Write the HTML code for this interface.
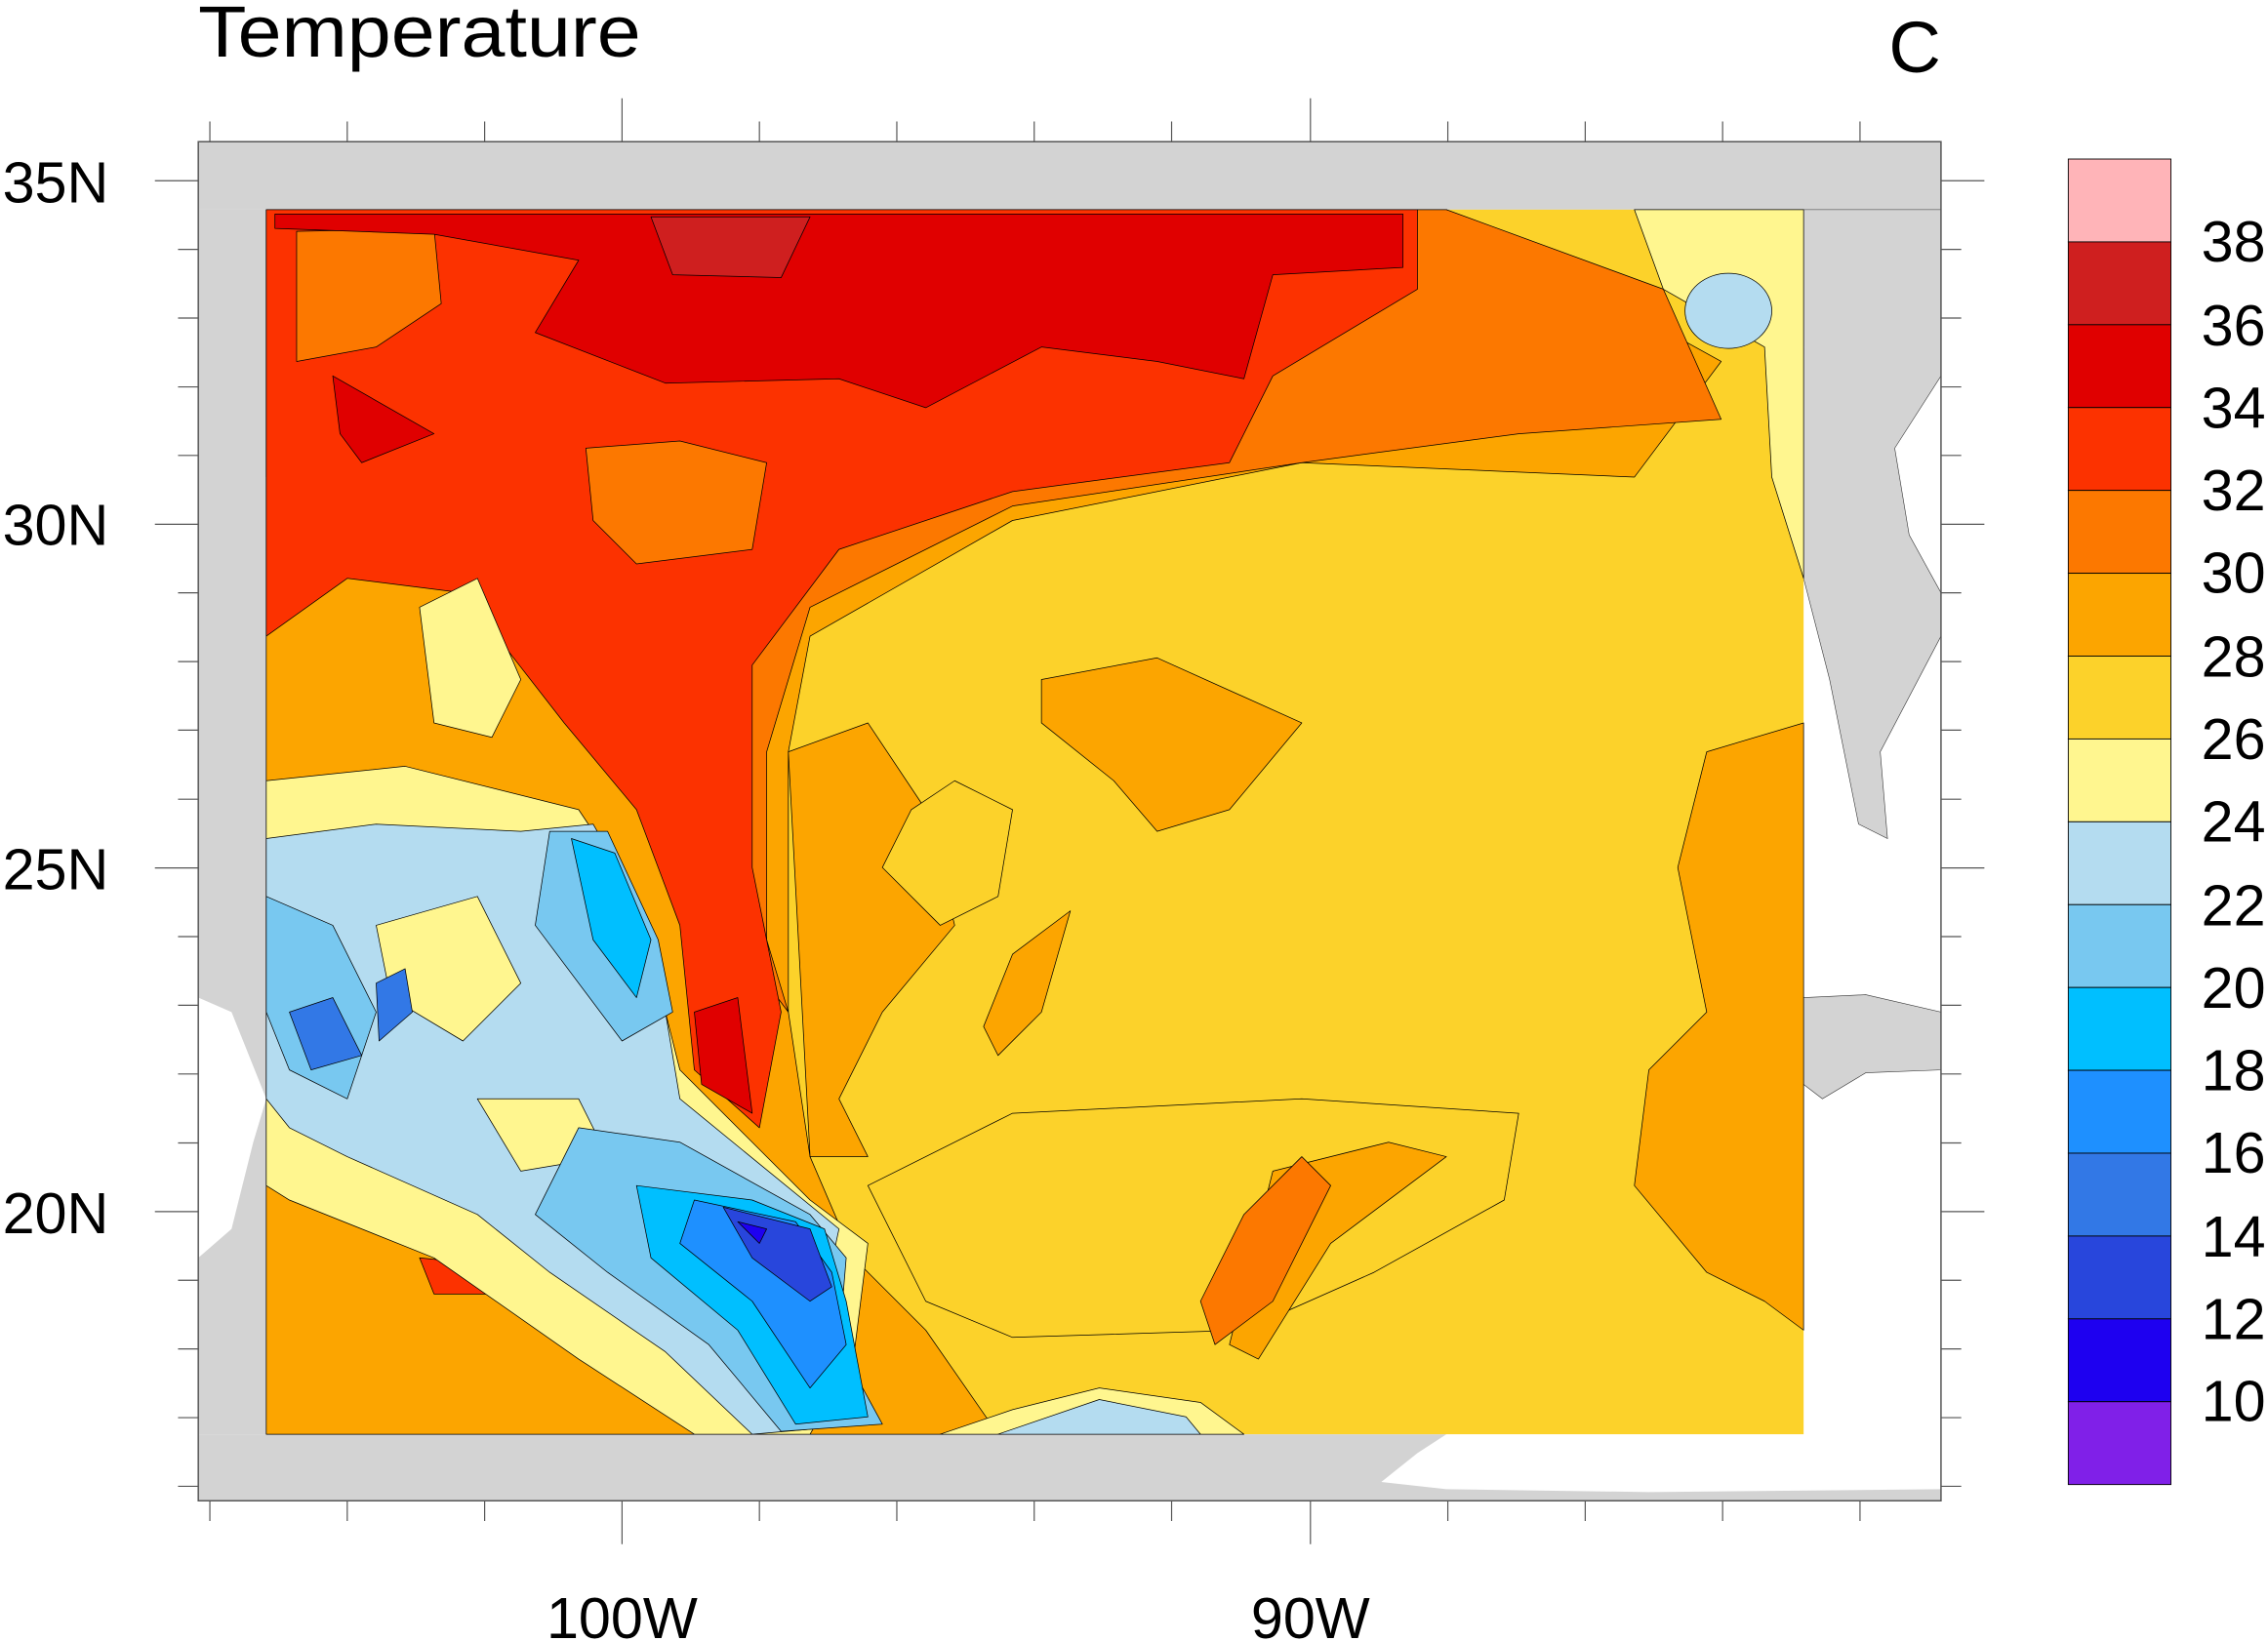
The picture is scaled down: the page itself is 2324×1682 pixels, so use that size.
<!DOCTYPE html>
<html><head><meta charset="utf-8"><style>html,body{margin:0;padding:0;background:#fff}svg{display:block}</style></head>
<body>
<svg width="2324" height="1682" viewBox="0 0 1568 1135" xmlns="http://www.w3.org/2000/svg" font-family="Liberation Sans, sans-serif">
<rect width="1568" height="1135" fill="#fff"/>
<rect x="137" y="98" width="1205" height="940" fill="#fff"/>
<rect x="137" y="98" width="1205" height="47" fill="#d3d3d3"/>
<polygon points="137,145 184,145 184,992 137,992 137,870 160,850 175,790 184,760 160,700 137,690" fill="#d3d3d3"/>
<polygon points="137,992 1000,992 980,1005 955,1025 1000,1030 1140,1032 1342,1030 1342,1038 137,1038" fill="#d3d3d3"/>
<polygon points="1247,145 1342,145 1342,260 1310,310 1320,370 1342,410 1342,440 1300,520 1305,580 1285,570 1265,470 1247,400" fill="#d3d3d3" stroke="#333" stroke-width="0.4"/>
<polygon points="1247,690 1290,688 1342,700 1342,740 1290,742 1260,760 1247,750" fill="#d3d3d3" stroke="#333" stroke-width="0.4"/>
<g stroke="#000" stroke-width="0.5" stroke-linejoin="round">
<rect x="184" y="145" width="1063" height="847" fill="#fcd22a" stroke="none"/>
<polygon fill="#fca500" points="184,145 1000,145 1190,250 1130,330 900,320 700,360 560,440 545,520 545,700 560,800 590,870 640,920 690,992 184,992"/>
<polygon fill="#fca500" points="545,520 600,500 640,560 660,640 610,700 580,760 600,800 560,800"/>
<polygon fill="#fca500" points="700,660 740,630 720,700 690,730 680,710"/>
<polygon fill="#fca500" points="1180,520 1247,500 1247,920 1220,900 1180,880 1130,820 1140,740 1180,700 1160,600"/>
<polygon fill="#fca500" points="720,470 800,455 900,500 850,560 800,575 770,540 720,500"/>
<polygon fill="#fcd22a" points="600,820 700,770 900,760 1050,770 1040,830 950,880 860,920 700,925 640,900"/>
<polygon fill="#fcd22a" points="630,560 660,540 700,560 690,620 650,640 610,600"/>
<polygon fill="#fca500" points="880,810 960,790 1000,800 920,860 870,940 850,930"/>
<polygon fill="#fc7800" points="184,145 1000,145 1150,200 1190,290 1050,300 900,320 700,350 560,420 530,520 530,650 545,700 500,640 450,560 350,430 260,370 184,330"/>
<polygon fill="#fc7800" points="860,840 900,800 920,820 880,900 840,930 830,900"/>
<polygon fill="#fc3200" points="184,145 980,145 980,200 880,260 850,320 700,340 580,380 520,460 520,600 540,700 525,780 480,740 470,640 440,560 390,500 320,410 240,400 184,440"/>
<polygon fill="#fc7800" points="405,310 470,305 530,320 520,380 440,390 410,360"/>
<polygon fill="#fc7800" points="205,160 300,158 305,210 260,240 205,250"/>
<polygon fill="#fc3200" points="290,870 340,875 360,895 300,895"/>
<polygon fill="#e00000" points="190,148 970,148 970,185 880,190 860,262 800,250 720,240 640,282 580,262 460,265 370,230 400,180 300,162 190,158"/>
<polygon fill="#e00000" points="230,260 300,300 250,320 235,300"/>
<polygon fill="#e00000" points="480,700 510,690 520,770 485,750"/>
<polygon fill="#cf1f1f" points="450,150 560,150 540,192 465,190"/>
<polygon fill="#fff68f" points="184,540 280,530 400,560 440,620 470,740 560,830 600,860 590,940 560,992 480,992 400,940 300,870 200,830 184,820"/>
<polygon fill="#fff68f" points="290,420 330,400 360,470 340,510 300,500"/>
<polygon fill="#fff68f" points="1130,145 1247,145 1247,400 1225,330 1220,240 1150,200"/>
<polygon fill="#fff68f" points="650,992 700,975 760,960 830,970 860,992"/>
<polygon fill="#b4dcf0" points="184,580 260,570 360,575 410,570 450,640 470,760 580,850 565,920 600,985 520,992 460,935 380,880 330,840 240,800 200,780 184,760"/>
<ellipse cx="1195" cy="215" rx="30" ry="26" fill="#b4dcf0"/>
<polygon fill="#b4dcf0" points="690,992 760,968 820,980 830,992"/>
<polygon fill="#fff68f" points="260,640 330,620 360,680 320,720 270,690"/>
<polygon fill="#fff68f" points="330,760 400,760 420,800 360,810"/>
<polygon fill="#78c8f0" points="380,575 420,575 455,650 465,700 430,720 370,640"/>
<polygon fill="#78c8f0" points="184,620 230,640 260,700 240,760 200,740 184,700"/>
<polygon fill="#78c8f0" points="400,780 470,790 560,840 585,870 580,930 610,985 540,990 490,930 420,880 370,840"/>
<polygon fill="#00bfff" points="395,580 425,590 450,650 440,690 410,650"/>
<polygon fill="#00bfff" points="440,820 520,830 570,850 585,900 600,980 550,985 510,920 450,870"/>
<polygon fill="#1e90ff" points="480,830 550,845 575,880 585,930 560,960 520,900 470,860"/>
<polygon fill="#2846dc" points="500,835 560,850 575,890 560,900 520,870"/>
<polygon fill="#1e00f0" points="510,845 530,850 525,860"/>
<polygon fill="#3278e6" points="200,700 230,690 250,730 215,740"/>
<polygon fill="#3278e6" points="260,680 280,670 285,700 262,720"/>
</g>
<rect x="137" y="98" width="1205" height="940" fill="none" stroke="#555" stroke-width="1"/>
<g stroke="#555" stroke-width="0.8">
<path d="M145,98V84M240,98V84M335,98V84M525,98V84M620,98V84M715,98V84M810,98V84M1001,98V84M1096,98V84M1191,98V84M1286,98V84M430,98V68M906,98V68"/>
<path d="M145,1038V1052M240,1038V1052M335,1038V1052M525,1038V1052M620,1038V1052M715,1038V1052M810,1038V1052M1001,1038V1052M1096,1038V1052M1191,1038V1052M1286,1038V1052M430,1038V1068M906,1038V1068"/>
<path d="M107,125H137M107,362.6H137M107,600.3H137M107,838H137M1342,125H1372M1342,362.6H1372M1342,600.3H1372M1342,838H1372"/>
<path d="M123,172.5H137M123,220H137M123,267.6H137M123,315H137M123,410H137M123,457.6H137M123,505H137M123,552.8H137M123,647.8H137M123,695.3H137M123,742.8H137M123,790.5H137M123,885.5H137M123,933H137M123,980.5H137M123,1028H137"/>
<path d="M1342,172.5H1356M1342,220H1356M1342,267.6H1356M1342,315H1356M1342,410H1356M1342,457.6H1356M1342,505H1356M1342,552.8H1356M1342,647.8H1356M1342,695.3H1356M1342,742.8H1356M1342,790.5H1356M1342,885.5H1356M1342,933H1356M1342,980.5H1356M1342,1028H1356"/>
</g>
<g font-size="40" fill="#000">
<text x="75" y="140" text-anchor="end">35N</text>
<text x="75" y="377" text-anchor="end">30N</text>
<text x="75" y="615" text-anchor="end">25N</text>
<text x="75" y="853" text-anchor="end">20N</text>
<text x="430" y="1133" text-anchor="middle">100W</text>
<text x="906" y="1133" text-anchor="middle">90W</text>
</g>
<text x="137" y="39" font-size="50" textLength="306" lengthAdjust="spacingAndGlyphs">Temperature</text>
<text x="1342" y="50" font-size="50" text-anchor="end">C</text>
<g stroke="#000" stroke-width="0.6">
<rect x="1430" y="110" width="71" height="57.3" fill="#ffb4b8"/>
<rect x="1430" y="167.3" width="71" height="57.3" fill="#cf1f1f"/>
<rect x="1430" y="224.6" width="71" height="57.3" fill="#e00000"/>
<rect x="1430" y="281.9" width="71" height="57.3" fill="#fc3200"/>
<rect x="1430" y="339.2" width="71" height="57.3" fill="#fc7800"/>
<rect x="1430" y="396.5" width="71" height="57.3" fill="#fca500"/>
<rect x="1430" y="453.8" width="71" height="57.3" fill="#fcd22a"/>
<rect x="1430" y="511.1" width="71" height="57.3" fill="#fff68f"/>
<rect x="1430" y="568.4" width="71" height="57.3" fill="#b4dcf0"/>
<rect x="1430" y="625.7" width="71" height="57.3" fill="#78c8f0"/>
<rect x="1430" y="683" width="71" height="57.3" fill="#00bfff"/>
<rect x="1430" y="740.3" width="71" height="57.3" fill="#1e90ff"/>
<rect x="1430" y="797.6" width="71" height="57.3" fill="#3278e6"/>
<rect x="1430" y="854.9" width="71" height="57.3" fill="#2846dc"/>
<rect x="1430" y="912.2" width="71" height="57.3" fill="#1e00f0"/>
<rect x="1430" y="969.5" width="71" height="57.3" fill="#8020e8"/>
</g>
<g font-size="40" fill="#000">
<text x="1522" y="181">38</text><text x="1522" y="239">36</text><text x="1522" y="296">34</text><text x="1522" y="353">32</text><text x="1522" y="410">30</text><text x="1522" y="468">28</text><text x="1522" y="525">26</text><text x="1522" y="582">24</text><text x="1522" y="640">22</text><text x="1522" y="697">20</text><text x="1522" y="754">18</text><text x="1522" y="811">16</text><text x="1522" y="869">14</text><text x="1522" y="926">12</text><text x="1522" y="983">10</text>
</g>
</svg>
</body></html>
